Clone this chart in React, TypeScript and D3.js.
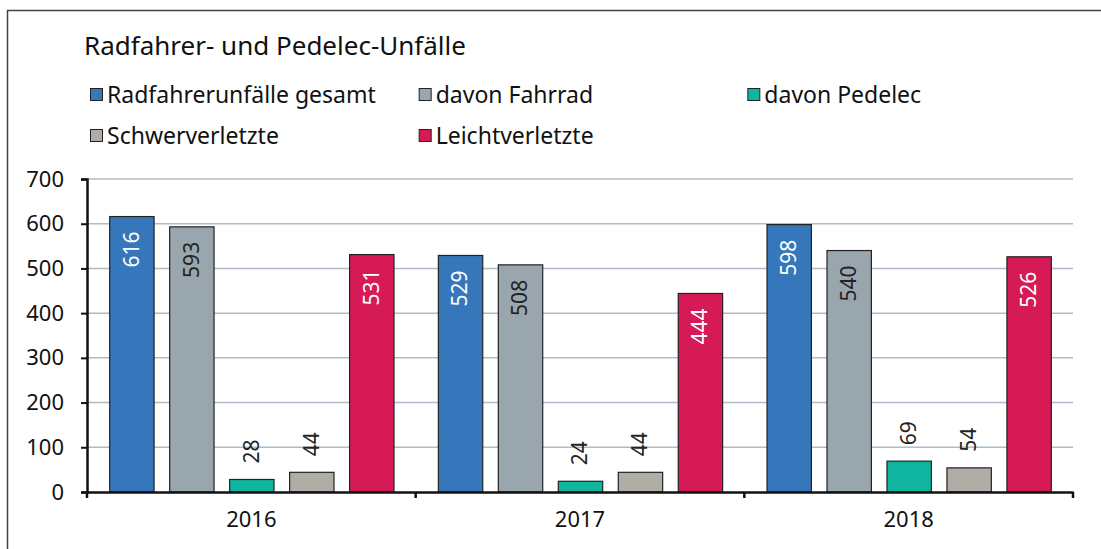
import React, { useEffect, useRef } from "react";
import * as d3 from "d3";

const years = ["2016", "2017", "2018"];
const seriesNames = [
  "Radfahrerunfälle gesamt",
  "davon Fahrrad",
  "davon Pedelec",
  "Schwerverletzte",
  "Leichtverletzte",
];
const gesamt = [616, 529, 598];
const fahrrad = [593, 508, 540];
const pedelec = [28, 24, 69];
const schwer = [44, 44, 54];
const leicht = [531, 444, 526];
const yTicks = [0, 100, 200, 300, 400, 500, 600, 700];

const seriesValues = [gesamt, fahrrad, pedelec, schwer, leicht];
const colors = ["#3577BA", "#9AA6AE", "#10B5A0", "#B0ACA6", "#D61A56"];
const labelColors = ["#ffffff", "#222222", "#222222", "#222222", "#ffffff"];

const FONT = "'Noto Sans', 'Open Sans', sans-serif";

const App: React.FC = () => {
  const ref = useRef<SVGSVGElement | null>(null);

  useEffect(() => {
    const svg = d3.select(ref.current);
    svg.selectAll("*").remove();

    const width = 1101,
      height = 549,
      margin = { top: 179, right: 28, bottom: 57, left: 87 };

    // outer frame
    svg
      .append("path")
      .attr("d", `M7.5,${height} L7.5,10.5 L${width},10.5`)
      .attr("fill", "none")
      .attr("stroke", "#444")
      .attr("stroke-width", 1.5);

    // title
    svg
      .append("text")
      .attr("x", 84)
      .attr("y", 55)
      .attr("font-family", FONT)
      .attr("font-size", 26)
      .attr("fill", "#111")
      .text("Radfahrer- und Pedelec-Unfälle");

    const x0 = d3
      .scaleBand()
      .domain(years)
      .range([margin.left, width - margin.right]);

    const x1 = d3
      .scaleBand()
      .domain(seriesNames)
      .range([0, x0.bandwidth()])
      .paddingInner(0.26)
      .paddingOuter(0.37);

    const y = d3
      .scaleLinear()
      .domain([0, 700])
      .range([height - margin.bottom, margin.top]);

    // legend
    const legendX = d3
      .scaleBand()
      .domain(["a", "b", "c"])
      .range([margin.left + 3, width - margin.right + 3]);
    const legendCols = ["a", "b", "c", "a", "b"];
    const legend = svg
      .append("g")
      .selectAll("g")
      .data(seriesNames)
      .enter()
      .append("g")
      .attr(
        "transform",
        (d, i) =>
          `translate(${legendX(legendCols[i])},${i < 3 ? 95 : 136})`
      );
    legend
      .append("rect")
      .attr("x", 0.5)
      .attr("y", -6.5)
      .attr("width", 12)
      .attr("height", 12)
      .attr("fill", (d, i) => colors[i])
      .attr("stroke", "#222")
      .attr("stroke-width", 1);
    legend
      .append("text")
      .attr("x", 17)
      .attr("dy", "0.35em")
      .attr("font-family", FONT)
      .attr("font-size", 23)
      .attr("fill", "#111")
      .text((d) => d);

    // gridlines
    svg
      .append("g")
      .selectAll("line")
      .data(yTicks.filter((t) => t > 0))
      .enter()
      .append("line")
      .attr("x1", margin.left)
      .attr("x2", width - margin.right)
      .attr("y1", (d) => y(d))
      .attr("y2", (d) => y(d))
      .attr("stroke", "#AFBCC8")
      .attr("stroke-width", 1.5);

    // bars
    const groups = svg
      .append("g")
      .selectAll("g")
      .data(years)
      .enter()
      .append("g")
      .attr("transform", (d) => `translate(${x0(d)},0)`);

    groups.each(function (year, yi) {
      const g = d3.select(this);
      const rows = seriesNames.map((name, si) => ({
        name,
        si,
        value: seriesValues[si][yi],
      }));
      g.selectAll("rect")
        .data(rows)
        .enter()
        .append("rect")
        .attr("x", (d) => (x1(d.name) ?? 0) + 0.5)
        .attr("y", (d) => y(d.value))
        .attr("width", x1.bandwidth())
        .attr("height", (d) => y(0) - y(d.value))
        .attr("fill", (d) => colors[d.si])
        .attr("stroke", "#222")
        .attr("stroke-width", 1.2);

      g.selectAll("text")
        .data(rows)
        .enter()
        .append("text")
        .attr("transform", (d) => {
          const cx = (x1(d.name) ?? 0) + x1.bandwidth() / 2;
          const inside = d.value > 150;
          const ty = inside ? y(d.value) + 15 : y(d.value) - 16;
          return `translate(${cx},${ty}) rotate(-90)`;
        })
        .attr("text-anchor", (d) => (d.value > 150 ? "end" : "start"))
        .attr("dy", "0.35em")
        .attr("font-family", FONT)
        .attr("font-size", 21)
        .attr("fill", (d) => (d.value > 150 ? labelColors[d.si] : "#222"))
        .text((d) => d.value);
    });

    // y axis
    const yAxis = svg
      .append("g")
      .attr("transform", `translate(${margin.left},0)`)
      .call(d3.axisLeft(y).tickValues(yTicks).tickSize(6).tickPadding(17));
    yAxis.select(".domain").attr("stroke", "#111").attr("stroke-width", 2.5);
    yAxis.selectAll(".tick line").attr("stroke", "#111").attr("stroke-width", 2);
    yAxis
      .selectAll(".tick text")
      .attr("font-family", FONT)
      .attr("font-size", 22)
      .attr("fill", "#111");

    // x axis
    const xAxis = svg
      .append("g")
      .attr("transform", `translate(0,${y(0)})`)
      .call(d3.axisBottom(x0).tickSize(0).tickPadding(19));
    xAxis.select(".domain").attr("stroke", "#111").attr("stroke-width", 2.5);
    xAxis
      .selectAll(".tick text")
      .attr("font-family", FONT)
      .attr("font-size", 22)
      .attr("fill", "#111");
    xAxis
      .append("g")
      .selectAll("line")
      .data([...years.map((d) => x0(d) ?? 0), width - margin.right])
      .enter()
      .append("line")
      .attr("x1", (d) => d)
      .attr("x2", (d) => d)
      .attr("y1", 0)
      .attr("y2", 6)
      .attr("stroke", "#111")
      .attr("stroke-width", 2.5);
  }, []);

  return (
    <svg
      ref={ref}
      width={1101}
      height={549}
      style={{ position: "absolute", left: 0, top: 0, background: "#fff" }}
    ></svg>
  );
};

export default App;
